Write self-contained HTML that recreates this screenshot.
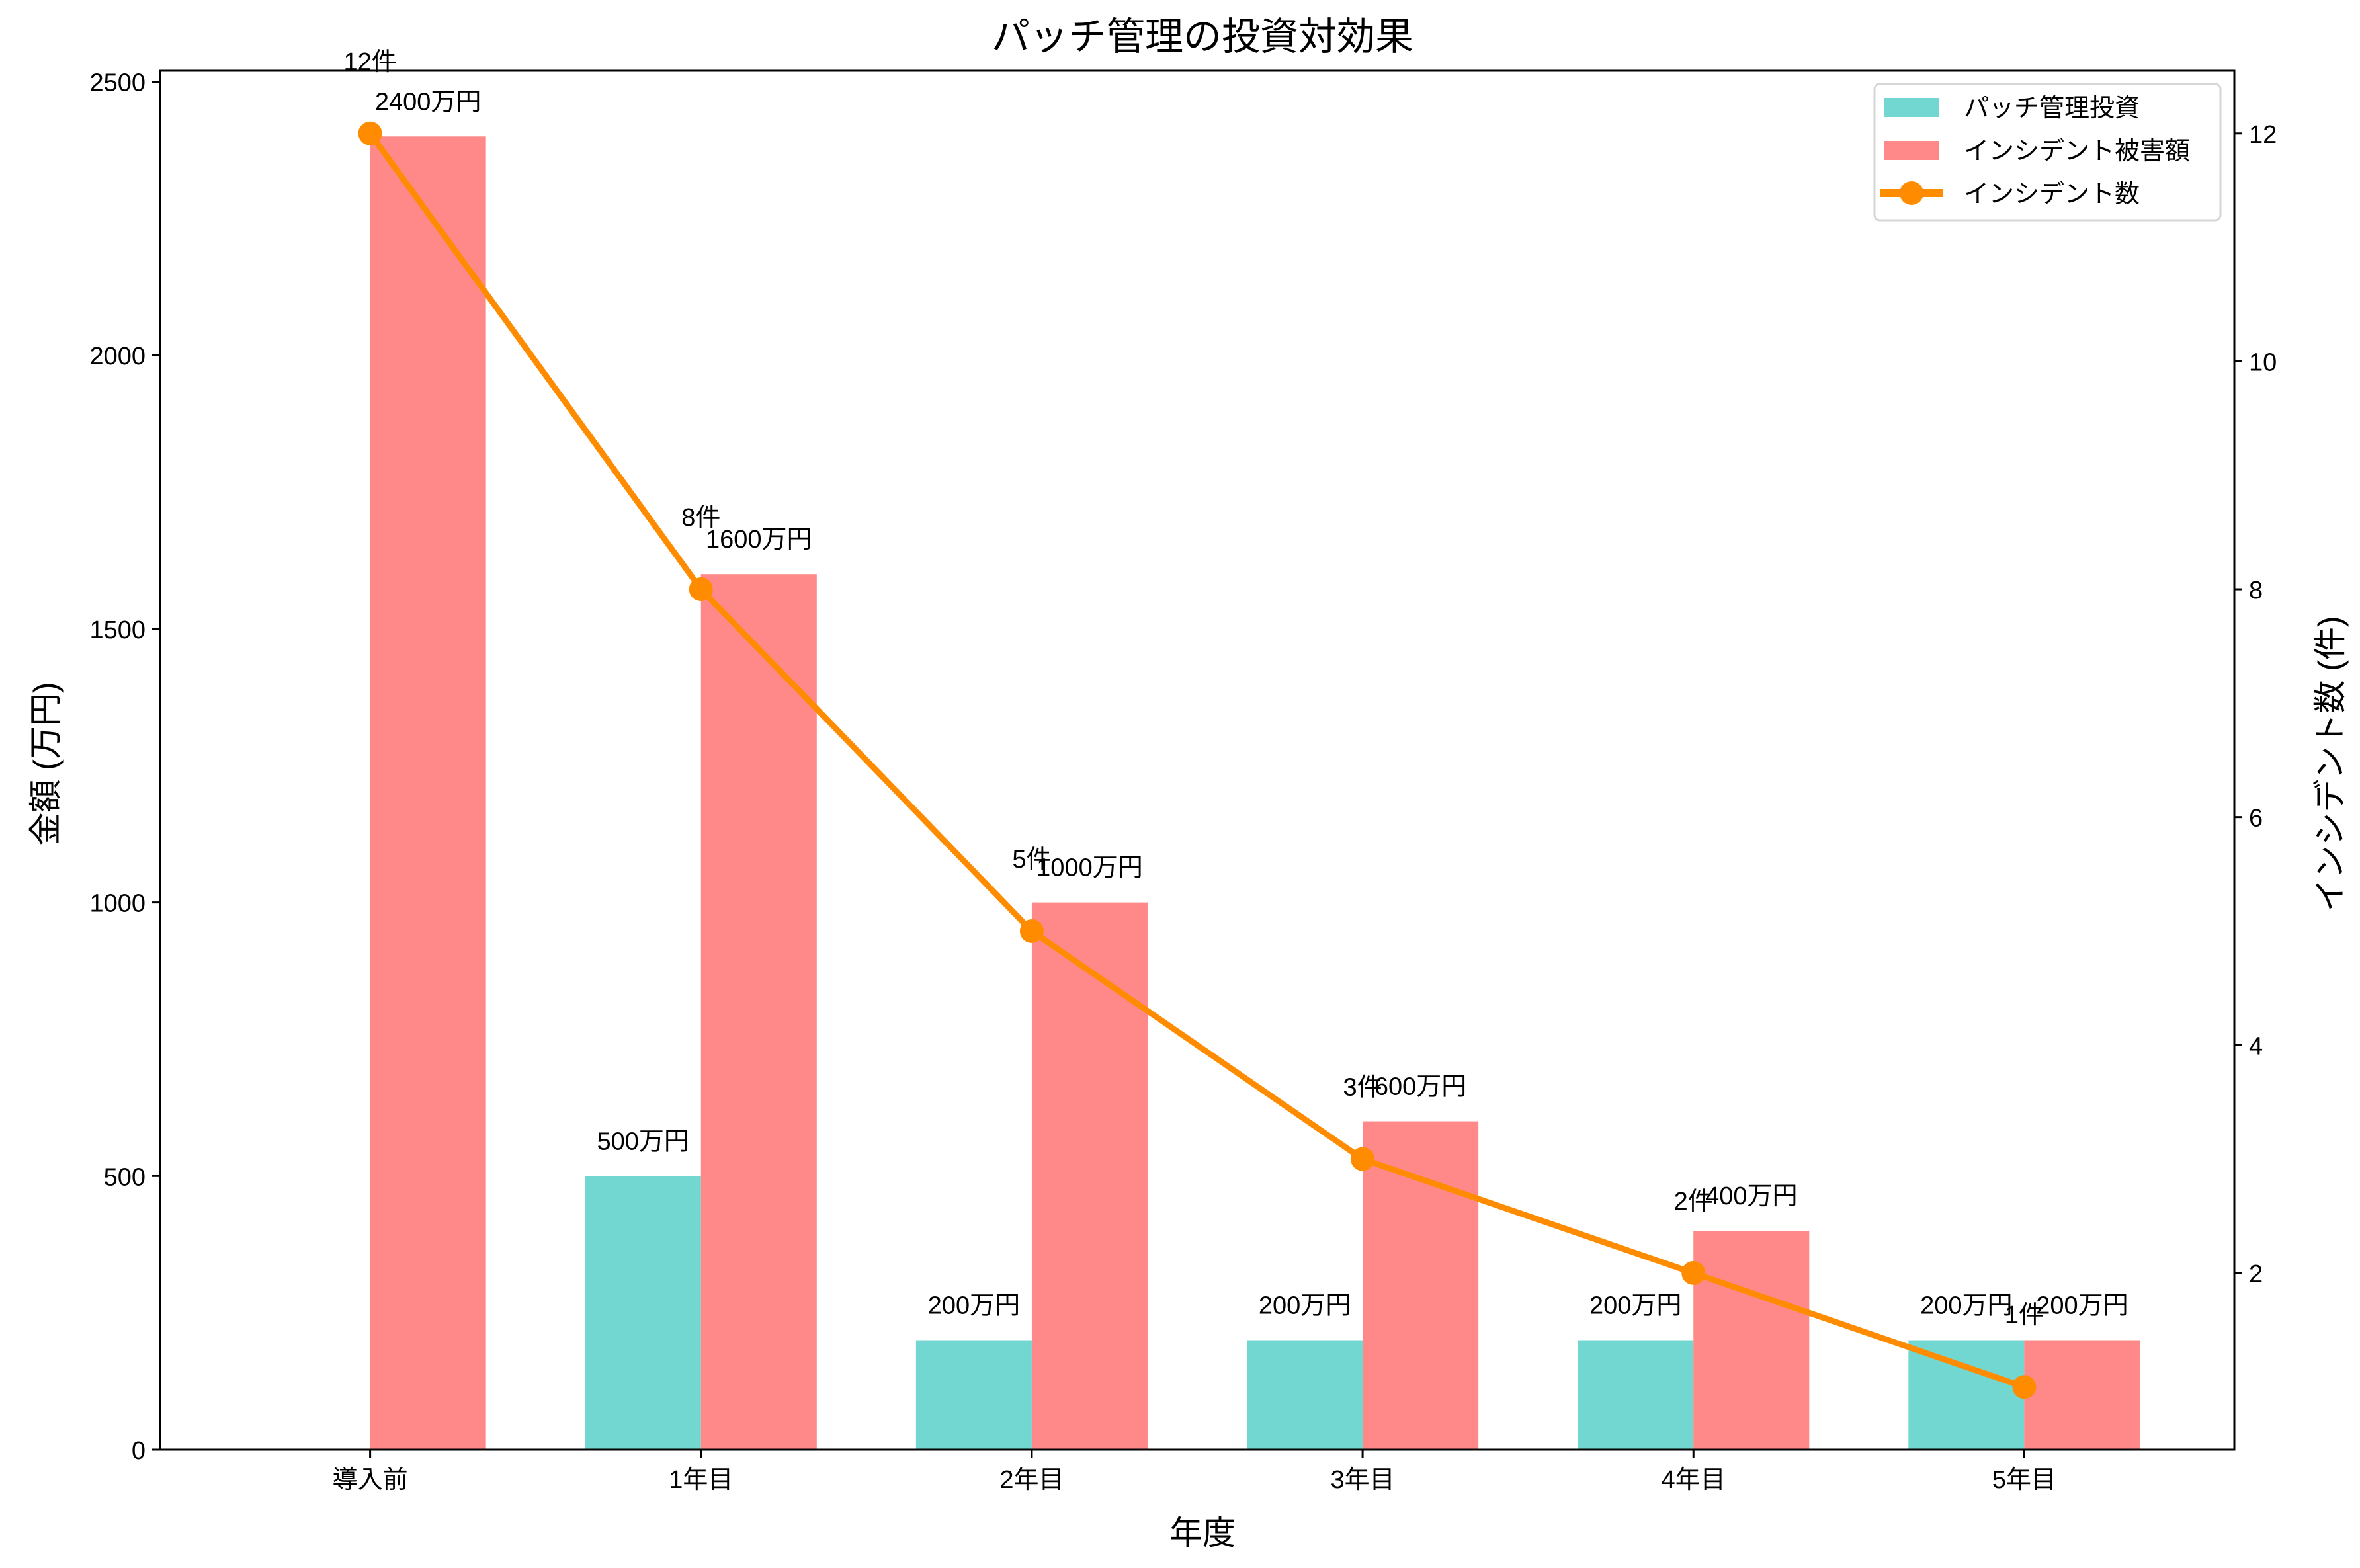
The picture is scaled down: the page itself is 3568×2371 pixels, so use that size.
<!DOCTYPE html>
<html><head><meta charset="utf-8">
<style>
html,body{margin:0;padding:0;background:#fff;}
svg{display:block;}
text{font-family:"Liberation Sans","Noto Sans CJK JP",sans-serif;fill:#000;}
</style></head>
<body>
<svg id="chart" width="3568" height="2371" viewBox="0 0 3568 2371" xmlns="http://www.w3.org/2000/svg">
<rect x="0" y="0" width="3568" height="2371" fill="#fff"/>
<g id="bars"></g>
<g id="line"></g>
<g id="axes"></g>
<g id="labels"></g>
<text x="1818" y="75" font-size="58" text-anchor="middle">パッチ管理の投資対効果</text>
<text x="1818" y="2335" font-size="50" text-anchor="middle">年度</text>
<text x="0" y="0" font-size="50" text-anchor="middle" transform="translate(86,1155) rotate(-90)">金額 (万円)</text>
<text x="0" y="0" font-size="50" text-anchor="middle" transform="translate(3540,1155) rotate(-90)">インシデント数 (件)</text>
<g>
<rect x="2834" y="127" width="523" height="206" rx="8" fill="#fff" fill-opacity="0.8" stroke="#d6d6d6" stroke-width="3"/>
<rect x="2849" y="148" width="83" height="29" fill="#71D7D0"/>
<text x="2969" y="176" font-size="38">パッチ管理投資</text>
<rect x="2849" y="213" width="83" height="29" fill="#FF8989"/>
<text x="2969" y="241" font-size="38">インシデント被害額</text>
<line x1="2843" y1="292" x2="2938" y2="292" stroke="#FF8C00" stroke-width="12"/>
<circle cx="2890" cy="292" r="18" fill="#FF8C00"/>
<text x="2969" y="306" font-size="38">インシデント数</text>
</g>
</svg>
<script>
const categories = ["導入前","1年目","2年目","3年目","4年目","5年目"];
const investment = [0,500,200,200,200,200];
const damage = [2400,1600,1000,600,400,200];
const incidents = [12,8,5,3,2,1];
const leftTicks = [0,500,1000,1500,2000,2500];
const rightTicks = [2,4,6,8,10,12];

const NS="http://www.w3.org/2000/svg";
const L=242,R=3378,T=107,B=2192;
const xMin=-0.635,xMax=5.635,yMax=2520,y2Min=0.45,y2Max=12.55,bw=0.35;
const sx=v=>L+(v-xMin)/(xMax-xMin)*(R-L);
const sy=v=>B-v/yMax*(B-T);
const sy2=v=>B-(v-y2Min)/(y2Max-y2Min)*(B-T);
function mk(tag,attrs,parent,txt){const e=document.createElementNS(NS,tag);for(const k in attrs)e.setAttribute(k,attrs[k]);if(txt!==undefined)e.textContent=txt;parent.appendChild(e);return e;}
const gB=document.getElementById('bars'),gL=document.getElementById('line'),gA=document.getElementById('axes'),gT=document.getElementById('labels');

categories.forEach((c,i)=>{
  if(investment[i]>0){
    const r=mk('rect',{x:sx(i-bw),y:sy(investment[i]),width:sx(i)-sx(i-bw),height:B-sy(investment[i]),fill:'#71D7D0'},gB);
    
    
    const t=mk('text',{x:sx(i-bw/2),y:sy(investment[i])-40,'font-size':38,'text-anchor':'middle'},gT,investment[i]+'万円');
    
    
  }
  const r2=mk('rect',{x:sx(i),y:sy(damage[i]),width:sx(i+bw)-sx(i),height:B-sy(damage[i]),fill:'#FF8989'},gB);
  
  
  const t2=mk('text',{x:sx(i+bw/2),y:sy(damage[i])-40,'font-size':38,'text-anchor':'middle'},gT,damage[i]+'万円');
  
  
});

const pts=incidents.map((v,i)=>sx(i)+','+sy2(v)).join(' ');
const pl=mk('polyline',{points:pts,fill:'none',stroke:'#FF8C00','stroke-width':9,'stroke-linejoin':'round'},gL);


incidents.forEach((v,i)=>{
  const c=mk('circle',{cx:sx(i),cy:sy2(v),r:18,fill:'#FF8C00'},gL);
  
  
  const t=mk('text',{x:sx(i),y:sy2(v)-96,'font-size':38,'text-anchor':'middle'},gT,v+'件');
  
  
});

const fr=mk('rect',{x:L,y:T,width:R-L,height:B-T,fill:'none',stroke:'#000','stroke-width':3},gA);


leftTicks.forEach(v=>{
  const y=sy(v);
  const tk=mk('line',{x1:L-12,y1:y,x2:L,y2:y,stroke:'#000','stroke-width':3},gA);
  
  
  const t=mk('text',{x:L-22,y:y+14,'font-size':38,'text-anchor':'end'},gA,String(v));
  
  
});
rightTicks.forEach(v=>{
  const y=sy2(v);
  const tk=mk('line',{x1:R,y1:y,x2:R+12,y2:y,stroke:'#000','stroke-width':3},gA);
  
  
  const t=mk('text',{x:R+22,y:y+14,'font-size':38,'text-anchor':'start'},gA,String(v));
  
  
});
categories.forEach((c,i)=>{
  const x=sx(i);
  const tk=mk('line',{x1:x,y1:B,x2:x,y2:B+12,stroke:'#000','stroke-width':3},gA);
  
  
  const t=mk('text',{x:x,y:B+58,'font-size':38,'text-anchor':'middle'},gA,c);
  
  
});
</script>
</body></html>
